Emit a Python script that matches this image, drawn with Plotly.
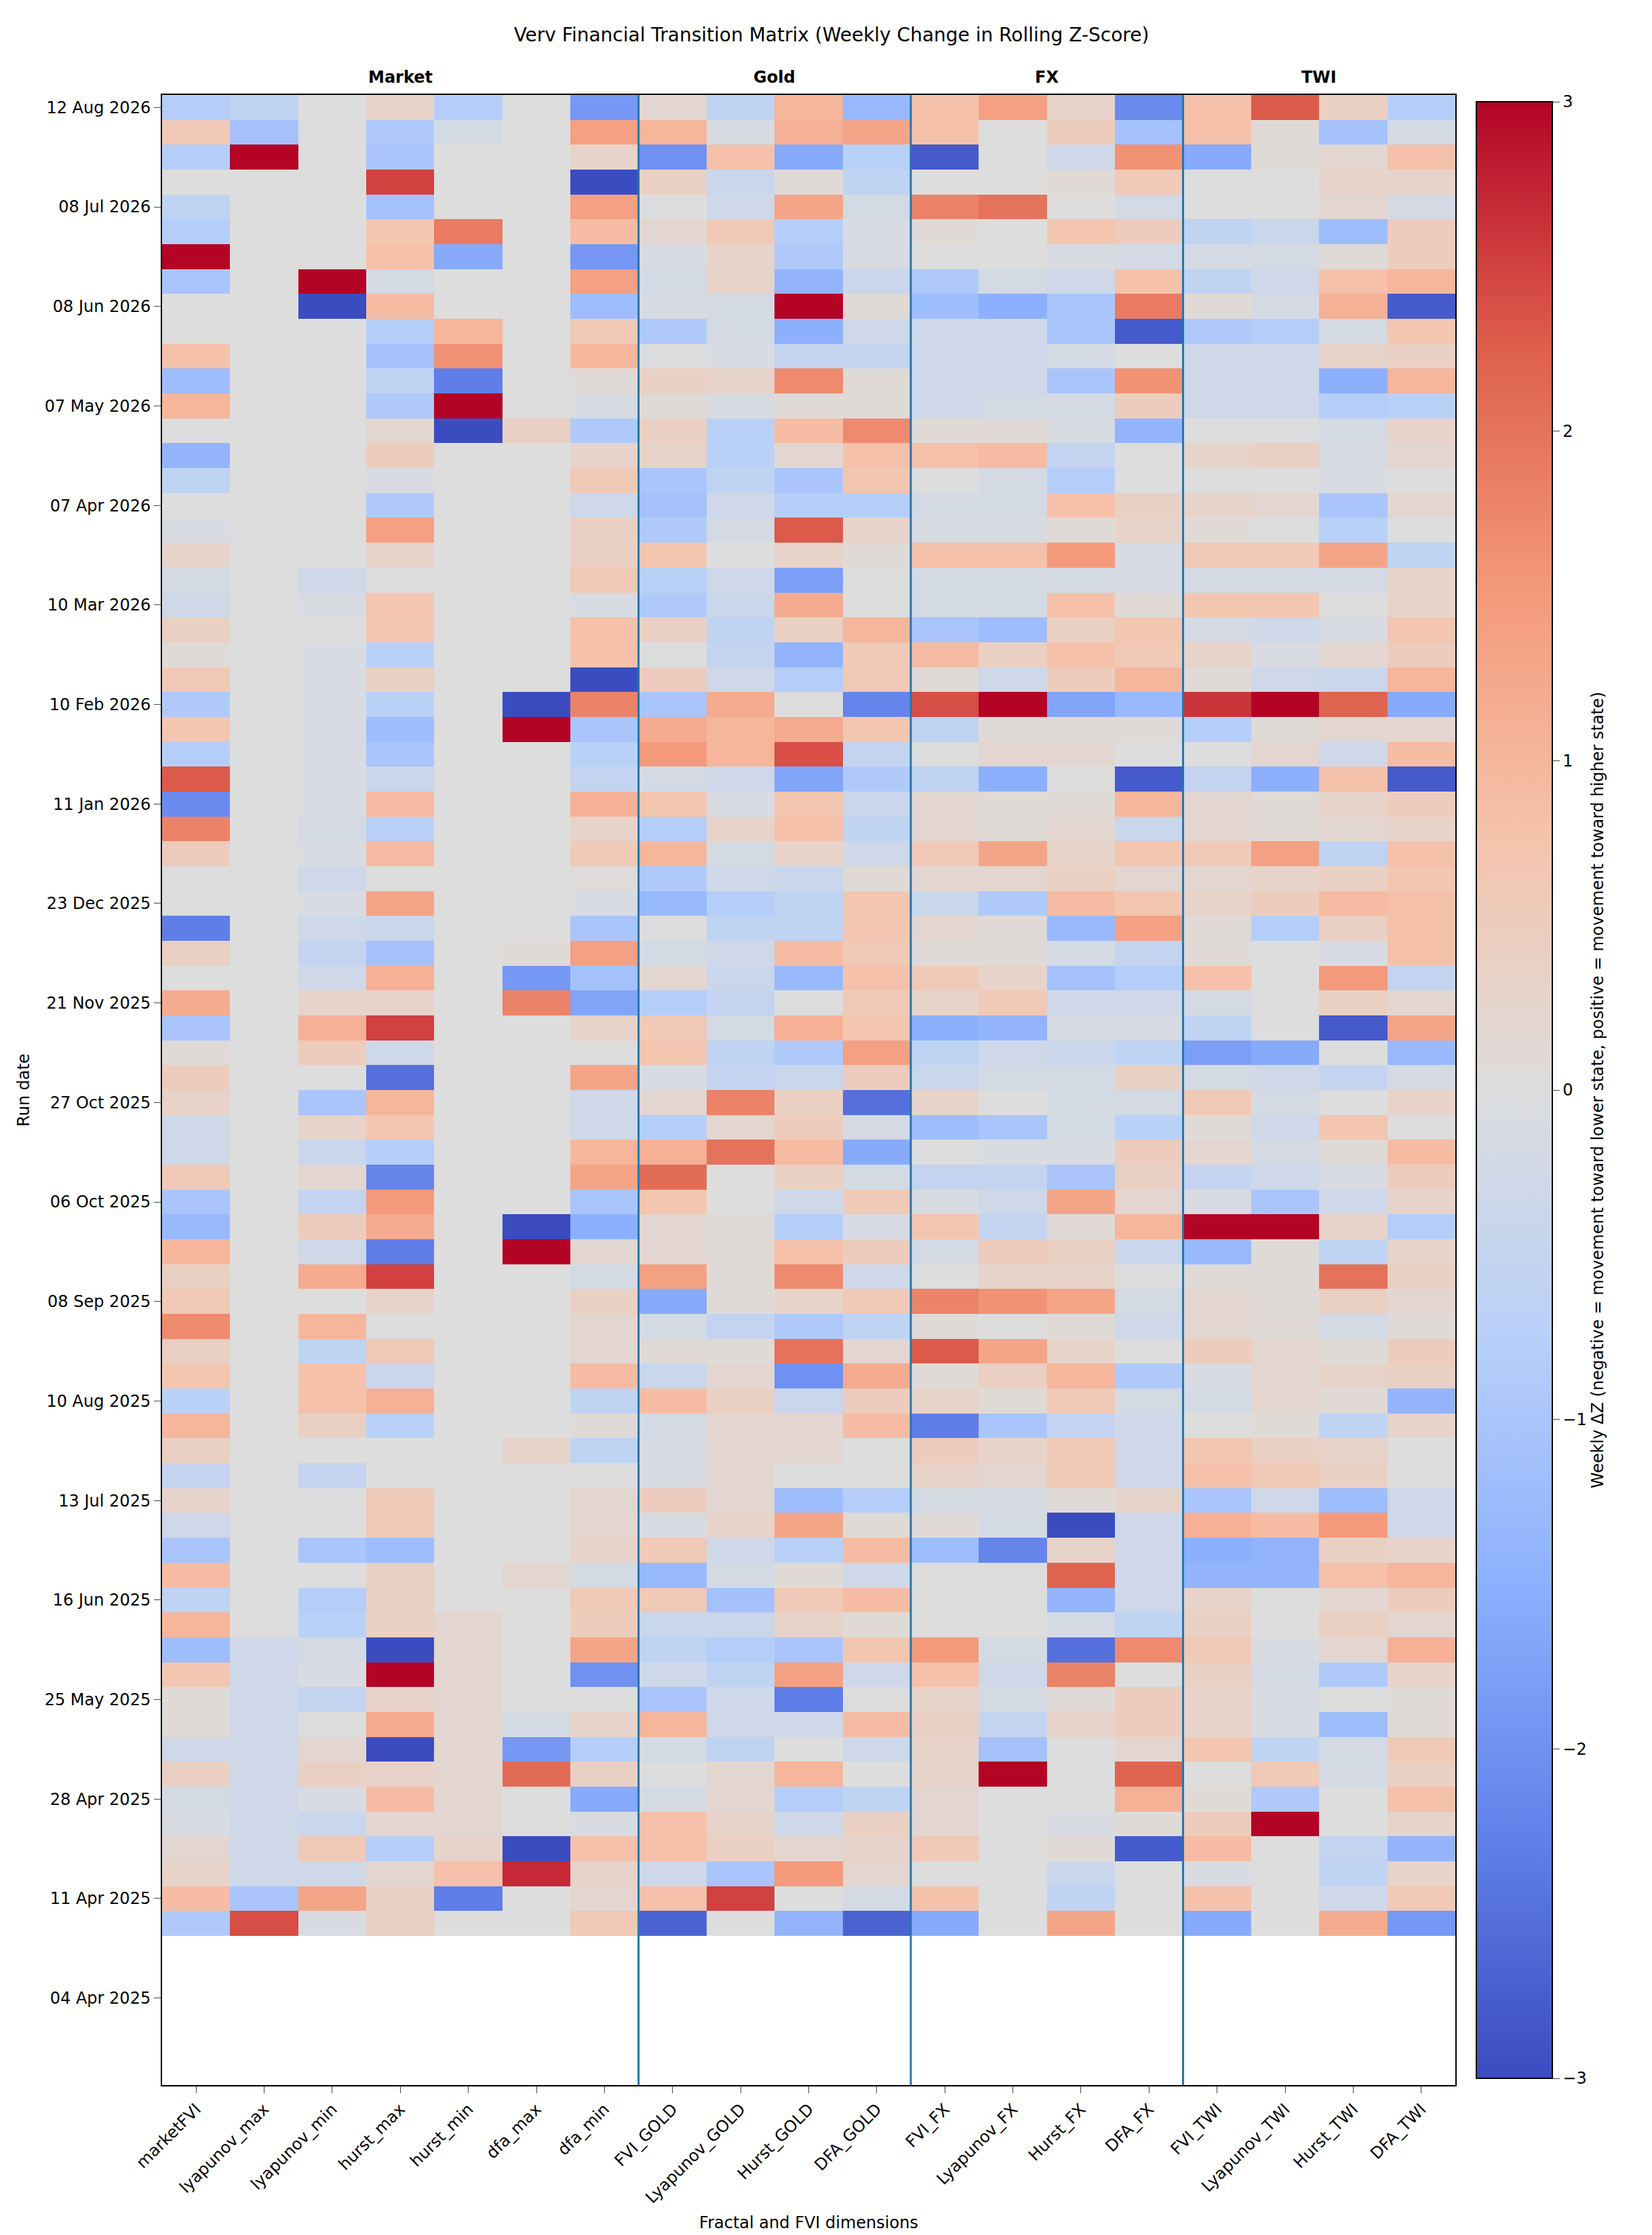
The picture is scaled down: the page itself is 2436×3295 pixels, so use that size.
import numpy as np
import plotly.graph_objects as go

COLUMNS = ['marketFVI', 'lyapunov_max', 'lyapunov_min', 'hurst_max', 'hurst_min', 'dfa_max', 'dfa_min',
           'FVI_GOLD', 'Lyapunov_GOLD', 'Hurst_GOLD', 'DFA_GOLD',
           'FVI_FX', 'Lyapunov_FX', 'Hurst_FX', 'DFA_FX',
           'FVI_TWI', 'Lyapunov_TWI', 'Hurst_TWI', 'DFA_TWI']

TICK_DATES = ['12 Aug 2026', '08 Jul 2026', '08 Jun 2026', '07 May 2026', '07 Apr 2026', '10 Mar 2026',
              '10 Feb 2026', '11 Jan 2026', '23 Dec 2025', '21 Nov 2025', '27 Oct 2025', '06 Oct 2025',
              '08 Sep 2025', '10 Aug 2025', '13 Jul 2025', '16 Jun 2025', '25 May 2025', '28 Apr 2025',
              '11 Apr 2025', '04 Apr 2025']

N_ROWS = 80

# coolwarm
COOLWARM = [[0.0, 'rgb(59,76,192)'], [0.125, 'rgb(98,130,234)'], [0.25, 'rgb(141,176,254)'],
            [0.375, 'rgb(184,208,249)'], [0.5, 'rgb(221,221,221)'], [0.625, 'rgb(245,196,173)'],
            [0.75, 'rgb(244,154,123)'], [0.875, 'rgb(222,96,77)'], [1.0, 'rgb(180,4,38)']]

market = [
	[-0.8, -0.6, 0, 0.3, -0.8, 0, -1.9], [0.6, -1.1, 0, -0.9, -0.2, 0, 1.4], [-0.8, 3, 0, -1.0, 0, 0, 0.3],
	[0, 0, 0, 2.5, 0, 0, -3], [-0.6, 0, 0, -1.1, 0, 0, 1.4], [-0.8, 0, 0, 0.7, 1.9, 0, 0.9],
	[3, 0, 0, 0.8, -1.6, 0, -1.9], [-1.0, 0, 3, -0.2, 0, 0, 1.4], [0, 0, -3, 0.9, 0, 0, -1.2],
	[0, 0, 0, -0.8, 1.0, 0, 0.6], [0.8, 0, 0, -1.1, 1.6, 0, 1.0], [-1.2, 0, 0, -0.6, -2.3, 0, 0.1],
	[1.0, 0, 0, -0.9, 3, 0, -0.1], [0, 0, 0, 0.2, -3, 0.4, -0.9], [-1.4, 0, 0, 0.5, 0, 0, 0.3],
	[-0.6, 0, 0, -0.1, 0, 0, 0.6], [0, 0, 0, -0.9, 0, 0, -0.3], [-0.1, 0, 0, 1.4, 0, 0, 0.4],
	[0.3, 0, 0, 0.3, 0, 0, 0.4], [-0.2, 0, -0.3, 0, 0, 0, 0.6], [-0.3, 0, -0.1, 0.7, 0, 0, -0.1],
	[0.4, 0, 0, 0.7, 0, 0, 0.8], [0.1, 0, -0.1, -0.7, 0, 0, 0.8], [0.6, 0, -0.1, 0.4, 0, 0, -3],
	[-0.9, 0, -0.1, -0.7, 0, -3, 1.8], [0.7, 0, -0.1, -1.2, 0, 3, -1.0], [-0.8, 0, -0.1, -1.0, 0, 0, -0.7],
	[2.3, 0, -0.1, -0.4, 0, 0, -0.5], [-2.1, 0, -0.1, 0.9, 0, 0, 1.1], [1.8, 0, -0.2, -0.7, 0, 0, 0.3],
	[0.5, 0, -0.1, 0.9, 0, 0, 0.6], [0, 0, -0.3, 0, 0, 0, 0.05], [0, 0, -0.1, 1.3, 0, 0, -0.1],
	[-2.3, 0, -0.3, -0.4, 0, 0, -1.0], [0.4, 0, -0.5, -1.1, 0, 0.1, 1.4], [0, 0, -0.3, 1.1, 0, -1.9, -1.1],
	[1.2, 0, 0.3, 0.3, 0, 1.8, -1.7], [-1.0, 0, 1.1, 2.5, 0, 0, 0.3], [0.1, 0, 0.5, -0.3, 0, 0, 0],
	[0.5, 0, 0, -2.5, 0, 0, 1.3], [0.3, 0, -1.0, 1.0, 0, 0, -0.3], [-0.3, 0, 0.3, 0.7, 0, 0, -0.3],
	[-0.3, 0, -0.4, -0.8, 0, 0, 1.0], [0.6, 0, 0.2, -2.2, 0, 0, 1.3], [-1.0, 0, -0.5, 1.5, 0, 0, -1.0],
	[-1.3, 0, 0.5, 1.2, 0, -3, -1.5], [1.0, 0, -0.3, -2.3, 0, 3, 0.2], [0.4, 0, 1.2, 2.5, 0, 0, -0.2],
	[0.6, 0, 0, 0.3, 0, 0, 0.4], [1.7, 0, 1.0, 0, 0, 0, 0.2], [0.4, 0, -0.6, 0.6, 0, 0, 0.2],
	[0.7, 0, 0.8, -0.4, 0, 0, 0.9], [-0.7, 0, 0.8, 1.1, 0, 0, -0.6], [1.0, 0, 0.4, -0.7, 0, 0, 0.1],
	[0.4, 0, 0, 0, 0, 0.3, -0.6], [-0.5, 0, -0.5, 0, 0, 0, 0], [0.3, 0, 0, 0.6, 0, 0, 0.2],
	[-0.3, 0, 0, 0.6, 0, 0, 0.2], [-1.0, 0, -1.0, -1.2, 0, 0, 0.3], [0.9, 0, 0, 0.4, 0, 0.2, -0.2],
	[-0.6, 0, -0.8, 0.4, 0, 0, 0.6], [1.0, 0, -0.7, 0.4, 0.2, 0, 0.5], [-1.2, -0.3, -0.2, -3, 0.2, 0, 1.3],
	[0.7, -0.3, -0.1, 3, 0.2, 0, -2.0], [0.1, -0.3, -0.5, 0.3, 0.2, 0, 0], [0.1, -0.3, 0, 1.2, 0.2, -0.2, 0.3],
	[-0.3, -0.3, 0.2, -3, 0.2, -1.9, -0.8], [0.4, -0.3, 0.4, 0.3, 0.2, 2.1, 0.4], [-0.2, -0.3, -0.1, 0.9, 0.2, 0, -1.6],
	[-0.1, -0.3, -0.4, 0.2, 0.2, 0, -0.1], [0.2, -0.3, 0.6, -0.8, 0.3, -3, 0.8], [0.3, -0.3, -0.3, 0.2, 0.8, 2.7, 0.3],
	[0.9, -1.0, 1.3, 0.4, -2.3, 0, 0.2], [-0.9, 2.4, -0.1, 0.4, 0, 0, 0.6],
]

gold = [
	[0.2, -0.6, 1.0, -1.3], [1.0, -0.1, 1.1, 1.3], [-2.0, 0.8, -1.6, -0.7], [0.4, -0.4, 0.1, -0.6],
	[0, -0.3, 1.3, -0.2], [0.2, 0.6, -0.8, -0.1], [-0.1, 0.3, -0.9, -0.1], [-0.2, 0.3, -1.4, -0.4],
	[-0.1, -0.2, 3, 0.1], [-0.9, -0.2, -1.5, -0.3], [0, -0.1, -0.5, -0.5], [0.4, 0.3, 1.7, 0.1],
	[0.1, -0.1, 0.1, 0.1], [0.4, -0.7, 0.9, 1.7], [0.3, -0.7, 0.2, 0.8], [-1.0, -0.6, -1.0, 0.7],
	[-1.1, -0.3, -0.8, -0.8], [-0.9, -0.2, 2.3, 0.3], [0.7, 0, 0.3, 0.1], [-0.7, -0.3, -1.8, 0],
	[-0.9, -0.4, 1.2, 0], [0.4, -0.6, 0.4, 1.0], [0, -0.5, -1.4, 0.6], [0.5, -0.3, -0.8, 0.6],
	[-1.0, 1.2, 0, -2.2], [1.2, 1.0, 1.2, 0.7], [1.5, 1.0, 2.4, -0.5], [-0.2, -0.3, -1.7, -0.9],
	[0.7, -0.1, 0.7, -0.4], [-0.8, 0.3, 0.8, -0.6], [1.0, -0.2, 0.3, -0.3], [-0.9, -0.3, -0.4, 0.1],
	[-1.3, -0.8, -0.6, 0.7], [0, -0.6, -0.6, 0.7], [-0.2, -0.3, 0.9, 0.6], [0.2, -0.4, -1.3, 0.8],
	[-0.8, -0.5, 0, 0.6], [0.6, -0.2, 1.1, 0.7], [0.7, -0.6, -0.9, 1.4], [-0.1, -0.5, -0.4, 0.5],
	[0.2, 1.8, 0.4, -2.5], [-0.8, 0.2, 0.5, -0.2], [1.1, 2.0, 0.9, -1.6], [2.1, 0, 0.4, -0.2],
	[0.7, 0, -0.3, 0.6], [0.2, 0.1, -0.8, -0.1], [0.2, 0.1, 0.8, 0.5], [1.4, 0.1, 1.7, -0.3],
	[-1.6, 0.1, 0.3, 0.6], [-0.2, -0.5, -0.9, -0.6], [0.1, 0.1, 2.0, 0.2], [-0.4, 0.2, -2.0, 1.2],
	[0.9, 0.4, -0.4, 0.5], [-0.2, 0.2, 0.2, 0.9], [-0.1, 0.2, 0.2, 0], [-0.1, 0.2, 0, 0],
	[0.5, 0.2, -1.2, -0.8], [-0.1, 0.3, 1.3, 0.1], [0.6, -0.3, -0.7, 0.9], [-1.3, -0.2, 0.1, -0.3],
	[0.6, -1.1, 0.6, 0.9], [-0.4, -0.4, 0.3, 0.1], [-0.6, -0.8, -1.0, 0.7], [-0.3, -0.6, 1.4, -0.3],
	[-1.0, -0.3, -2.3, 0], [1.0, -0.3, -0.3, 0.9], [-0.2, -0.6, 0, -0.3], [0, 0.2, 1.0, 0],
	[-0.2, 0.2, -0.8, -0.6], [0.8, 0.3, -0.3, 0.4], [0.8, 0.4, 0.2, 0.3], [-0.3, -1.0, 1.5, 0.2],
	[0.8, 2.5, 0, -0.2], [-2.7, 0, -1.4, -2.7],
]

fx = [
	[0.8, 1.4, 0.3, -2.1], [0.8, 0, 0.5, -1.1], [-2.8, 0, -0.3, 1.6], [0, 0, 0.1, 0.6],
	[1.8, 2.0, 0, -0.2], [0.1, 0, 0.7, 0.5], [0, 0, -0.1, -0.2], [-0.9, -0.2, -0.3, 0.8],
	[-1.2, -1.5, -1.0, 1.9], [-0.3, -0.3, -1.0, -2.8], [-0.3, -0.3, -0.2, 0], [-0.3, -0.3, -1.0, 1.6],
	[-0.3, -0.2, -0.2, 0.5], [0.1, 0.1, -0.1, -1.4], [0.8, 0.9, -0.5, 0], [0, -0.2, -0.8, 0],
	[-0.2, -0.2, 0.8, 0.4], [-0.1, -0.1, 0.1, 0.3], [0.8, 0.8, 1.5, -0.1], [-0.2, -0.2, -0.2, -0.1],
	[-0.2, -0.2, 0.8, 0.1], [-1.0, -1.2, 0.4, 0.7], [0.9, 0.4, 0.8, 0.6], [0.1, -0.3, 0.5, 1.0],
	[2.4, 3, -1.7, -1.3], [-0.6, 0.1, 0.1, 0.1], [0, 0.2, 0.2, 0], [-0.6, -1.5, 0, -2.8],
	[0.2, 0.1, 0.1, 1.0], [0.2, 0.1, 0.2, -0.4], [0.6, 1.3, 0.3, 0.7], [0.2, 0.2, 0.4, 0.2],
	[-0.4, -0.9, 0.9, 0.7], [0.2, 0.1, -1.3, 1.4], [0.1, 0.1, -0.2, -0.5], [0.6, 0.3, -1.1, -0.8],
	[0.3, 0.6, -0.3, -0.3], [-1.5, -1.4, -0.1, -0.1], [-0.6, -0.3, -0.4, -0.6], [-0.4, -0.2, -0.2, 0.4],
	[0.3, 0, -0.2, -0.2], [-1.2, -1.0, -0.2, -0.7], [0, -0.1, -0.1, 0.5], [-0.5, -0.5, -1.0, 0.4],
	[-0.1, -0.3, 1.3, 0.2], [0.7, -0.5, 0.1, 1.0], [-0.2, 0.5, 0.4, -0.4], [0, 0.3, 0.3, 0],
	[1.8, 1.6, 1.3, -0.2], [0.1, 0, 0.1, -0.3], [2.3, 1.3, 0.3, 0], [0.1, 0.4, 1.0, -0.9],
	[0.3, 0.1, 0.6, -0.2], [-2.3, -1.0, -0.5, -0.3], [0.5, 0.3, 0.6, -0.3], [0.3, 0.2, 0.6, -0.3],
	[-0.2, -0.1, 0.1, 0.3], [0.1, -0.2, -3, -0.3], [-1.2, -2.2, 0.3, -0.3], [0, 0, 2.2, -0.3],
	[0, 0, -1.4, -0.3], [0, 0, -0.2, -0.6], [1.5, -0.2, -2.5, 1.7], [0.8, -0.3, 1.8, 0],
	[0.3, -0.2, 0.1, 0.5], [0.4, -0.5, 0.3, 0.5], [0.3, -1.1, 0, 0.2], [0.3, 3, 0, 2.2],
	[0.2, 0, 0, 1.1], [0.2, 0, -0.1, 0.1], [0.6, 0, 0.1, -2.8], [0, 0, -0.4, 0],
	[0.8, 0, -0.6, 0], [-1.6, 0, 1.3, 0],
]

twi = [
	[0.8, 2.3, 0.4, -0.8], [0.8, 0.1, -1.1, -0.2], [-1.6, 0.1, 0.2, 0.8], [0, 0, 0.3, 0.3],
	[0, 0, 0.2, -0.2], [-0.6, -0.4, -1.2, 0.5], [-0.2, -0.2, 0.1, 0.5], [-0.6, -0.3, 0.8, 1.0],
	[0.1, -0.2, 1.1, -2.8], [-0.9, -0.8, -0.2, 0.7], [-0.3, -0.3, 0.3, 0.4], [-0.3, -0.3, -1.5, 1.0],
	[-0.3, -0.3, -0.8, -0.7], [0, 0, -0.2, 0.3], [0.3, 0.4, -0.1, 0.2], [0, 0, -0.1, 0],
	[0.3, 0.2, -1.0, 0.2], [0.1, 0, -0.7, 0], [0.6, 0.6, 1.3, -0.6], [-0.2, -0.2, -0.2, 0.3],
	[0.7, 0.7, 0, 0.3], [-0.2, -0.3, -0.1, 0.7], [0.3, -0.1, 0.2, 0.5], [0.1, -0.3, -0.4, 1.0],
	[2.6, 3, 2.2, -1.6], [-0.8, 0.1, 0.2, 0.2], [0, 0.2, -0.3, 0.9], [-0.5, -1.5, 0.8, -2.8],
	[0.2, 0.1, 0.3, 0.5], [0.2, 0.1, 0.2, 0.3], [0.6, 1.4, -0.6, 0.8], [0.2, 0.3, 0.4, 0.7],
	[0.3, 0.5, 0.9, 0.8], [0.1, -0.8, 0.4, 0.8], [0.1, 0, -0.1, 0.8], [0.8, 0, 1.5, -0.5],
	[-0.2, 0, 0.4, 0.2], [-0.6, 0, -2.8, 1.3], [-1.8, -1.6, 0, -1.3], [-0.2, -0.3, -0.5, -0.2],
	[0.6, -0.2, 0, 0.3], [0.1, -0.3, 0.7, 0], [0.2, -0.2, 0.1, 0.9], [-0.5, -0.3, -0.1, 0.5],
	[-0.1, -1.0, -0.3, 0.3], [3, 3, 0.3, -0.8], [-1.3, 0.1, -0.6, 0.3], [0.1, 0.1, 2.0, 0.4],
	[0.2, 0.1, 0.4, 0.2], [0.2, 0.1, -0.2, 0.1], [0.5, 0.2, 0.1, 0.5], [-0.1, 0.2, 0.3, 0.4],
	[-0.2, 0.2, 0.1, -1.4], [0, 0.1, -0.6, 0.3], [0.7, 0.4, 0.3, 0], [0.8, 0.6, 0.4, 0],
	[-1.0, -0.3, -1.2, -0.3], [1.1, 0.9, 1.5, -0.3], [-1.5, -1.4, 0.4, 0.3], [-1.4, -1.4, 0.8, 1.0],
	[0.3, 0, 0.2, 0.5], [0.4, 0, 0.4, 0.2], [0.6, -0.1, 0.2, 1.1], [0.4, -0.2, -0.9, 0.3],
	[0.3, -0.1, 0, 0.1], [0.3, -0.1, -1.2, 0.1], [0.7, -0.6, -0.2, 0.6], [0, 0.6, -0.2, 0.4],
	[0.1, -0.9, 0, 0.8], [0.5, 3, 0, 0.3], [0.9, 0, -0.5, -1.4], [-0.1, 0, -0.6, 0.3],
	[0.8, 0, -0.3, 0.6], [-1.6, 0, 1.2, -1.9],
]


def plot_transition_matrix():
	z = np.hstack([np.array(market), np.array(gold), np.array(fx), np.array(twi)])
	empty = np.full((N_ROWS - len(z), len(COLUMNS)), np.nan)  # runs without a previous week
	z = np.vstack([z, empty])

	fig = go.Figure()
	fig.add_trace(go.Heatmap(z=z, x=list(range(len(COLUMNS))), y=list(range(N_ROWS)),
							 colorscale=COOLWARM, zmin=-3, zmax=3, hoverongaps=False,
							 colorbar=dict(title=dict(text='Weekly ΔZ (negative = movement toward lower state, positive = movement toward higher state)',
													  side='right', font=dict(size=24)),
										   tickvals=[-3, -2, -1, 0, 1, 2, 3], ticktext=['−3', '−2', '−1', '0', '1', '2', '3'],
										   ticks='outside', ticklen=10, tickfont=dict(size=24),
										   thickness=112, len=1.0, y=0.5, yanchor='middle', x=1.016, xpad=0,
										   outlinewidth=2, outlinecolor='black')))

	for xb in [6.5, 10.5, 14.5]:
		fig.add_shape(type='line', x0=xb, x1=xb, y0=-0.5, y1=N_ROWS - 0.5, line=dict(color='#1f77b4', width=3))

	for name, xc in [('Market', 3), ('Gold', 8.5), ('FX', 12.5), ('TWI', 16.5)]:
		fig.add_annotation(x=xc, y=1.0, xref='x', yref='paper', yanchor='bottom', yshift=10,
						   text='<b>%s</b>' % name, showarrow=False, font=dict(size=24))

	fig.update_layout(width=2436, height=3295, plot_bgcolor='white', paper_bgcolor='white',
					  font=dict(family='DejaVu Sans', size=24, color='black'),
					  margin=dict(l=231, r=298, t=132, b=229),
					  title=dict(text='Verv Financial Transition Matrix (Weekly Change in Rolling Z-Score)',
								 x=0.5, xanchor='center', y=0.99, font=dict(size=28)))
	fig.update_xaxes(tickvals=list(range(len(COLUMNS))), ticktext=COLUMNS, tickangle=-45,
					 range=[-0.5, len(COLUMNS) - 0.5], showline=True, mirror=True, linecolor='black',
					 linewidth=2, ticks='outside', ticklen=10, showgrid=False, zeroline=False,
					 title=dict(text='Fractal and FVI dimensions', font=dict(size=24)))
	fig.update_yaxes(tickvals=list(range(0, N_ROWS, 4)), ticktext=TICK_DATES,
					 range=[N_ROWS - 0.5, -0.5], showline=True, mirror=True, linecolor='black',
					 linewidth=2, ticks='outside', ticklen=10, showgrid=False, zeroline=False,
					 title=dict(text='Run date', font=dict(size=24)))
	return fig


def main():
	fig = plot_transition_matrix()
	fig.write_html('out.html')


main()
